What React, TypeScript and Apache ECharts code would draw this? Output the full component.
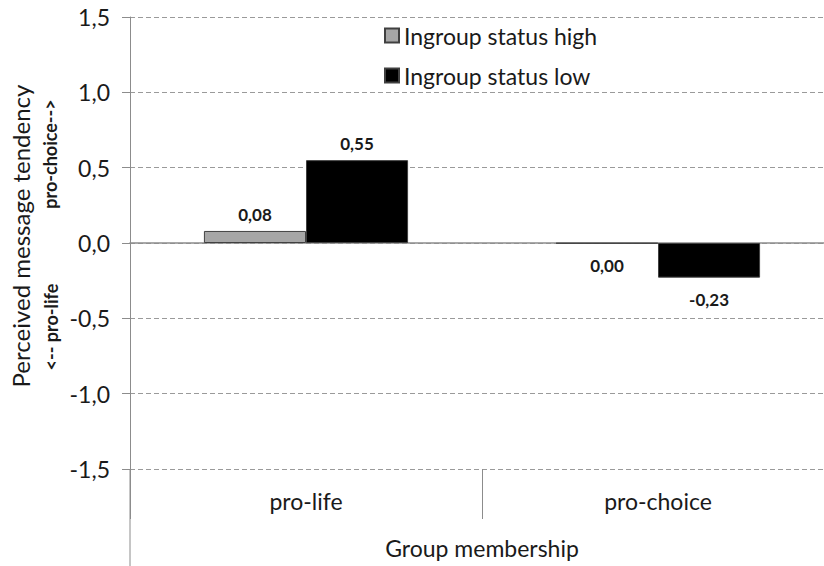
import React, { useEffect, useRef } from "react";
import * as echarts from "echarts";

const categories = ["pro-life", "pro-choice"];
const seriesNames = ["Ingroup status high", "Ingroup status low"];
const highValues = [0.08, -0.003];
const lowValues = [0.55, -0.23];
const yTicks = [-1.5, -1.0, -0.5, 0.0, 0.5, 1.0, 1.5];

const FONT = "Lato";

const fmt2 = (v: number) => (Math.round(v * 100) / 100).toFixed(2).replace(".", ",");
const fmt1 = (v: number) => v.toFixed(1).replace(".", ",");

export default function App() {
  const ref = useRef<HTMLDivElement>(null);
  useEffect(() => {
    if (!ref.current) return;
    const chart = echarts.init(ref.current, undefined, { renderer: "svg" });
    const mk = (vals: number[]) =>
      vals.map((v) => ({
        value: v,
        label: {
          position: v >= 0 ? "top" : "bottom",
          distance: v >= 0 ? 8 : 13,
        },
      }));
    const labelCommon = {
      show: true,
      fontFamily: FONT,
      fontWeight: "bold",
      fontSize: 17,
      color: "#1a1a1a",
      formatter: (p: any) => fmt2(p.value),
    };
    chart.setOption({
      animation: false,
      backgroundColor: "#ffffff",
      textStyle: { fontFamily: FONT },
      grid: { left: 130, top: 17, right: 0, bottom: 97, containLabel: false },
      legend: {
        orient: "vertical",
        left: 379,
        top: 19,
        itemWidth: 14,
        itemHeight: 14,
        itemGap: 17,
        icon: "rect",
        textStyle: { fontFamily: FONT, fontSize: 23, color: "#1a1a1a" },
        data: seriesNames,
      },
      xAxis: [
        {
          type: "category",
          data: categories,
          position: "bottom",
          axisLine: { show: false, onZero: false },
          axisTick: { show: true, length: 50, lineStyle: { color: "#8c8c8c" } },
          axisLabel: { margin: 20, fontFamily: FONT, fontSize: 23, color: "#1a1a1a" },
          name: "Group membership",
          nameLocation: "middle",
          nameGap: 67,
          nameTextStyle: { fontFamily: FONT, fontSize: 23, color: "#1a1a1a" },
        },
        {
          type: "category",
          data: categories,
          position: "top",
          axisLine: { show: true, onZero: true, lineStyle: { color: "#8c8c8c", width: 1.5 } },
          axisTick: { show: false },
          axisLabel: { show: false },
        },
      ],
      yAxis: {
        type: "value",
        min: yTicks[0],
        max: yTicks[yTicks.length - 1],
        interval: 0.5,
        axisLine: { show: true, onZero: false, lineStyle: { color: "#8c8c8c" } },
        axisTick: { show: true, length: 8, lineStyle: { color: "#8c8c8c" } },
        axisLabel: {
          margin: 20,
          fontFamily: FONT,
          fontSize: 23,
          color: "#1a1a1a",
          formatter: (v: number) => fmt1(v),
        },
        splitLine: { show: true, lineStyle: { color: "#9a9a9a", type: [5, 3], width: 1 } },
      },
      graphic: [
        {
          type: "line",
          shape: { x1: 130, y1: 469, x2: 130, y2: 566 },
          style: { stroke: "#8c8c8c", lineWidth: 1 },
        },
        {
          type: "text",
          x: 20,
          y: 236,
          rotation: Math.PI / 2,
          style: {
            text: "Perceived message tendency",
            fontFamily: FONT,
            fontSize: 24,
            fill: "#1a1a1a",
            align: "center",
            verticalAlign: "middle",
          },
        },
        {
          type: "text",
          x: 50,
          y: 154,
          rotation: Math.PI / 2,
          style: {
            text: "pro-choice-->",
            fontFamily: FONT,
            fontSize: 18,
            fontWeight: "bold",
            fill: "#1a1a1a",
            align: "center",
            verticalAlign: "middle",
          },
        },
        {
          type: "text",
          x: 51,
          y: 327,
          rotation: Math.PI / 2,
          style: {
            text: "<-- pro-life",
            fontFamily: FONT,
            fontSize: 18,
            fontWeight: "bold",
            fill: "#1a1a1a",
            align: "center",
            verticalAlign: "middle",
          },
        },
      ],
      series: [
        {
          name: seriesNames[0],
          type: "bar",
          xAxisIndex: 0,
          barGap: "0%",
          barCategoryGap: "42%",
          itemStyle: { color: "#a6a6a6", borderColor: "#404040", borderWidth: 1 },
          label: labelCommon,
          data: mk(highValues),
        },
        {
          name: seriesNames[1],
          type: "bar",
          xAxisIndex: 0,
          barGap: "0%",
          barCategoryGap: "42%",
          itemStyle: { color: "#000000", borderColor: "#404040", borderWidth: 1 },
          label: labelCommon,
          data: mk(lowValues),
        },
      ],
    });
    return () => chart.dispose();
  }, []);
  return (
    <div
      style={{
        position: "fixed",
        left: 0,
        top: 0,
        width: 824,
        height: 566,
        overflow: "hidden",
        background: "#ffffff",
      }}
    >
      <div ref={ref} style={{ width: 834, height: 566 }} />
    </div>
  );
}
